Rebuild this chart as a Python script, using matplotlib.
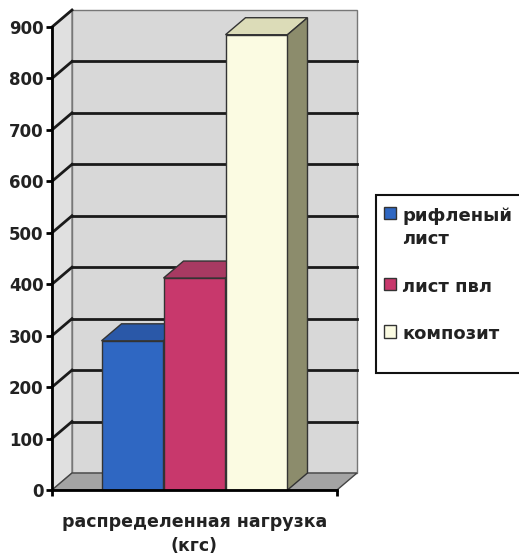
import matplotlib.pyplot as plt
from matplotlib.patches import Polygon, Patch, Rectangle

# данные
series = ['рифленый\nлист', 'лист пвл', 'композит']
values = [290, 412, 885]
front_colors = ['#2f67c2', '#c8386c', '#fbfbe2']
top_colors = ['#2a58a8', '#a83a62', '#dcdcb8']
side_colors = ['#24488c', '#8e2e52', '#8c8c6c']
yticks = [0, 100, 200, 300, 400, 500, 600, 700, 800, 900]
xlabel = 'распределенная нагрузка\n(кгс)'

plt.rcParams['font.family'] = ['DejaVu Sans']

fig = plt.figure(figsize=(5.19, 5.54), dpi=100)
ax = fig.add_axes([52 / 519, 64 / 554, 285 / 519, 463 / 554])
ax.set_xlim(-0.5, 0.5)
ax.set_ylim(0, 900)

# глубина 3D-эффекта в единицах данных
dx = 20 / 285
dy = 17 / (463 / 900)
ymax = yticks[-1]

# стенки и пол
back = Polygon([(-0.5 + dx, dy), (0.5 + dx, dy), (0.5 + dx, ymax + dy), (-0.5 + dx, ymax + dy)],
               closed=True, facecolor='#d8d8d8', edgecolor='#777777', lw=1, zorder=0, clip_on=False)
left = Polygon([(-0.5, 0), (-0.5 + dx, dy), (-0.5 + dx, ymax + dy), (-0.5, ymax)],
               closed=True, facecolor='#e0e0e0', edgecolor='#777777', lw=1, zorder=0, clip_on=False)
floor = Polygon([(-0.5, 0), (0.5, 0), (0.5 + dx, dy), (-0.5 + dx, dy)],
                closed=True, facecolor='#a4a4a4', edgecolor='#444444', lw=1, zorder=1, clip_on=False)
for p in (back, left, floor):
    ax.add_patch(p)

for v in yticks[1:-1]:
    ax.plot([-0.5 + dx, 0.5 + dx], [v + dy, v + dy], color='#1a1a1a', lw=2, zorder=1, clip_on=False)
for v in yticks[1:]:
    ax.plot([-0.5, -0.5 + dx], [v, v + dy], color='#1a1a1a', lw=2, zorder=1, clip_on=False)

# столбцы
w = 62 / 285
xs = [-1.5 * w + i * w for i in range(len(values))]
for i, (x0, v) in enumerate(zip(xs, values)):
    z = 3 + i
    ax.bar(x0, v, width=w, align='edge', color=front_colors[i], edgecolor='#333333',
           lw=1, zorder=z, clip_on=False)
    x1 = x0 + w
    ax.add_patch(Polygon([(x0, v), (x0 + dx, v + dy), (x1 + dx, v + dy), (x1, v)], closed=True,
                         facecolor=top_colors[i], edgecolor='#333333', lw=1, zorder=z, clip_on=False))
    ax.add_patch(Polygon([(x1, 0), (x1 + dx, dy), (x1 + dx, v + dy), (x1, v)], closed=True,
                         facecolor=side_colors[i], edgecolor='#333333', lw=1, zorder=z, clip_on=False))

# оси
for s in ('top', 'right'):
    ax.spines[s].set_visible(False)
ax.spines['left'].set_linewidth(2)
ax.spines['bottom'].set_linewidth(2)
ax.spines['left'].set_zorder(10)
ax.spines['bottom'].set_zorder(10)
ax.set_yticks(yticks)
ax.set_yticklabels([str(t) for t in yticks], fontsize=12, fontweight='bold', color='#222222')
ax.tick_params(axis='y', direction='out', length=4, width=2, pad=2)
ax.set_xticks([-0.5, 0.5])
ax.set_xticklabels([])
ax.tick_params(axis='x', direction='out', length=4, width=2)
ax.set_facecolor('none')
ax.set_xlabel(xlabel, fontsize=12.5, fontweight='bold', color='#222222', labelpad=9, linespacing=1.45)

# легенда: рамка отдельно, чтобы снизу был такой же запас, как на оригинале
fig.patches.append(Rectangle((376 / 519, 1 - 373 / 554), 160 / 519, 178 / 554, transform=fig.transFigure,
                             facecolor='white', edgecolor='#111111', lw=1.5, zorder=0))
handles = [Patch(facecolor=c, edgecolor='#333333') for c in front_colors]
leg = fig.legend(handles, series, loc='upper left', bbox_to_anchor=(384 / 519, 1 - 207 / 554),
                 borderaxespad=0, frameon=False, borderpad=0,
                 handlelength=0.65, handleheight=0.65, handletextpad=0.35, labelspacing=1.65,
                 prop={'size': 13, 'weight': 'bold'})
for col in leg._legend_handle_box.get_children():
    for row in col.get_children():
        row.align = 'top'
for t in leg.get_texts():
    t.set_color('#222222')
    t.set_linespacing(1.35)

fig.savefig('out.png', dpi=100)
